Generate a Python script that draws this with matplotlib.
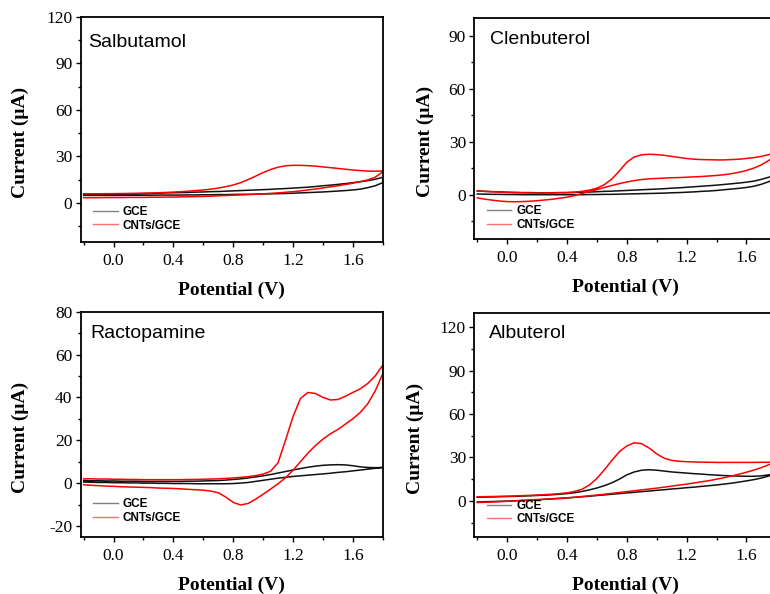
import matplotlib
matplotlib.use('Agg')
import matplotlib.pyplot as plt
from matplotlib.lines import Line2D
from matplotlib.ticker import MultipleLocator, FormatStrFormatter

plt.rcParams['axes.unicode_minus'] = False

# potential grid (V), shared by all scans
E = [-0.2, -0.15, -0.1, -0.05, 0.0, 0.05, 0.1, 0.15,
     0.2, 0.25, 0.3, 0.35, 0.4, 0.45, 0.5, 0.55,
     0.6, 0.65, 0.7, 0.75, 0.8, 0.85, 0.9, 0.95,
     1.0, 1.05, 1.1, 1.15, 1.2, 1.25, 1.3, 1.35,
     1.4, 1.45, 1.5, 1.55, 1.6, 1.65, 1.7, 1.75,
     1.8]

# currents (uA): upper branch / lower branch of each CV loop
sal_gce_up = [5.6, 5.6, 5.6, 5.7, 5.7, 5.8, 5.9, 5.9,
              6.0, 6.1, 6.2, 6.4, 6.5, 6.6, 6.7, 6.9,
              7.0, 7.2, 7.3, 7.5, 7.7, 7.9, 8.1, 8.3,
              8.5, 8.7, 9.0, 9.2, 9.5, 9.8, 10.1, 10.5,
              11.0, 11.4, 11.9, 12.4, 13.0, 13.6, 14.3, 15.2,
              16.5]
sal_gce_lo = [4.8, 4.8, 4.8, 4.8, 4.8, 4.8, 4.9, 4.9,
              4.9, 4.9, 5.0, 5.0, 5.0, 5.0, 5.1, 5.1,
              5.2, 5.2, 5.3, 5.3, 5.4, 5.5, 5.5, 5.6,
              5.7, 5.8, 5.9, 6.0, 6.2, 6.4, 6.6, 6.8,
              7.0, 7.3, 7.6, 7.9, 8.3, 8.8, 9.8, 11.0,
              13.0]
sal_cnt_up = [5.8, 5.8, 5.8, 5.9, 5.9, 6.0, 6.0, 6.1,
              6.2, 6.3, 6.5, 6.7, 6.9, 7.2, 7.5, 7.9,
              8.3, 8.8, 9.5, 10.4, 11.5, 13.0, 15.0, 17.2,
              19.5, 21.5, 23.0, 23.9, 24.2, 24.2, 24.0, 23.7,
              23.2, 22.7, 22.2, 21.7, 21.2, 20.8, 20.5, 20.4,
              20.6]
sal_cnt_lo = [3.3, 3.3, 3.3, 3.4, 3.4, 3.4, 3.5, 3.5,
              3.5, 3.6, 3.6, 3.7, 3.7, 3.8, 3.9, 4.0,
              4.1, 4.3, 4.5, 4.7, 4.9, 5.1, 5.3, 5.5,
              5.8, 6.1, 6.4, 6.8, 7.2, 7.7, 8.3, 8.9,
              9.6, 10.3, 11.0, 11.8, 12.7, 13.7, 14.8, 16.5,
              20.0]

cle_gce_up = [2.2, 2.0, 1.8, 1.7, 1.5, 1.4, 1.3, 1.3,
              1.2, 1.2, 1.2, 1.3, 1.3, 1.4, 1.5, 1.6,
              1.8, 2.0, 2.1, 2.3, 2.5, 2.7, 2.9, 3.1,
              3.3, 3.5, 3.8, 4.0, 4.3, 4.6, 4.9, 5.2,
              5.5, 5.9, 6.3, 6.7, 7.2, 7.8, 8.8, 10.0,
              11.5]
cle_gce_lo = [0.5, 0.4, 0.3, 0.3, 0.2, 0.2, 0.1, 0.1,
              0.1, 0.1, 0.1, 0.1, 0.1, 0.1, 0.1, 0.2,
              0.2, 0.3, 0.3, 0.4, 0.5, 0.6, 0.7, 0.8,
              0.9, 1.0, 1.2, 1.3, 1.5, 1.7, 2.0, 2.2,
              2.5, 2.9, 3.3, 3.7, 4.2, 4.9, 6.0, 7.5,
              9.5]
cle_cnt_up = [2.2, 2.0, 1.8, 1.6, 1.4, 1.3, 1.2, 1.1,
              1.1, 1.1, 1.1, 1.2, 1.3, 1.5, 2.0, 2.7,
              3.8, 5.8, 9.0, 13.5, 18.5, 21.5, 22.7, 23.0,
              22.8, 22.4, 21.8, 21.2, 20.6, 20.2, 20.0, 19.9,
              19.8, 19.8, 20.0, 20.2, 20.6, 21.1, 21.8, 22.8,
              24.0]
cle_cnt_lo = [-1.7, -2.4, -3.0, -3.5, -3.8, -3.9, -3.8, -3.6,
              -3.3, -2.9, -2.5, -1.9, -1.3, -0.4, 0.8, 1.9,
              3.0, 4.2, 5.3, 6.4, 7.3, 8.1, 8.7, 9.1,
              9.3, 9.5, 9.7, 9.8, 10.0, 10.2, 10.4, 10.7,
              11.0, 11.4, 12.0, 12.8, 13.8, 15.2, 17.0, 19.5,
              22.5]

rac_gce_up = [1.2, 1.1, 1.1, 1.0, 1.0, 0.9, 0.9, 0.9,
              0.8, 0.8, 0.8, 0.8, 0.8, 0.8, 0.9, 0.9,
              1.0, 1.1, 1.2, 1.4, 1.7, 2.0, 2.4, 2.9,
              3.4, 4.0, 4.7, 5.4, 6.1, 6.8, 7.4, 7.9,
              8.3, 8.5, 8.6, 8.5, 8.1, 7.6, 7.3, 7.2,
              7.3]
rac_gce_lo = [0.5, 0.4, 0.3, 0.3, 0.2, 0.2, 0.1, 0.1,
              0.0, 0.0, -0.1, -0.1, -0.2, -0.2, -0.2, -0.3,
              -0.3, -0.3, -0.3, -0.3, -0.2, 0.0, 0.3, 0.8,
              1.3, 1.8, 2.3, 2.7, 3.1, 3.4, 3.7, 4.0,
              4.3, 4.6, 5.0, 5.3, 5.7, 6.1, 6.5, 6.9,
              7.3]
rac_cnt_up = [2.0, 2.0, 1.9, 1.9, 1.8, 1.8, 1.7, 1.7,
              1.6, 1.6, 1.6, 1.6, 1.6, 1.6, 1.7, 1.7,
              1.8, 1.9, 2.0, 2.2, 2.4, 2.7, 3.0, 3.5,
              4.2, 5.5, 9.5, 20.0, 31.0, 39.5, 42.3, 41.8,
              40.0, 38.8, 39.0, 40.5, 42.3, 44.0, 46.5, 50.0,
              55.0]
rac_cnt_lo = [-0.8, -1.0, -1.2, -1.4, -1.5, -1.7, -1.8, -1.9,
              -2.0, -2.1, -2.3, -2.4, -2.5, -2.7, -2.9, -3.1,
              -3.3, -3.7, -4.5, -6.5, -9.0, -10.2, -9.5, -7.5,
              -5.2, -2.8, -0.3, 2.5, 6.0, 10.0, 14.0, 17.5,
              20.5, 23.0, 25.0, 27.5, 30.0, 33.0, 37.0, 43.0,
              51.0]

alb_gce_up = [2.5, 2.6, 2.7, 2.9, 3.0, 3.1, 3.3, 3.5,
              3.7, 3.9, 4.2, 4.6, 5.0, 5.6, 6.5, 7.6,
              8.9, 10.5, 12.5, 15.0, 18.0, 20.0, 21.2, 21.5,
              21.2, 20.6, 20.0, 19.6, 19.2, 18.8, 18.5, 18.1,
              17.8, 17.5, 17.3, 17.1, 17.0, 17.0, 17.3, 18.0,
              19.0]
alb_gce_lo = [-0.8, -0.6, -0.5, -0.3, -0.2, 0.0, 0.2, 0.4,
              0.7, 1.0, 1.3, 1.6, 2.0, 2.4, 2.8, 3.2,
              3.7, 4.1, 4.6, 5.0, 5.5, 5.9, 6.4, 6.8,
              7.3, 7.7, 8.2, 8.6, 9.1, 9.5, 10.0, 10.5,
              11.0, 11.6, 12.2, 13.0, 13.8, 14.7, 15.8, 17.2,
              18.8]
alb_cnt_up = [2.8, 2.9, 3.0, 3.1, 3.2, 3.4, 3.6, 3.8,
              4.0, 4.3, 4.6, 5.0, 5.5, 6.5, 8.0, 11.0,
              15.5, 21.5, 28.0, 34.0, 38.0, 40.2, 39.5, 36.5,
              32.5, 29.5, 28.0, 27.4, 27.1, 26.9, 26.8, 26.7,
              26.6, 26.6, 26.6, 26.6, 26.6, 26.6, 26.7, 26.7,
              26.8]
alb_cnt_lo = [-1.2, -1.0, -0.8, -0.6, -0.3, 0.0, 0.3, 0.6,
              0.9, 1.2, 1.5, 1.8, 2.1, 2.5, 3.0, 3.5,
              4.0, 4.6, 5.2, 5.8, 6.4, 7.0, 7.6, 8.2,
              8.8, 9.5, 10.2, 10.9, 11.6, 12.4, 13.2, 14.0,
              15.0, 16.0, 17.2, 18.4, 19.8, 21.3, 23.0, 25.0,
              27.0]

names = ['Salbutamol', 'Clenbuterol', 'Ractopamine', 'Albuterol']
ylims = [(-25, 120), (-25, 100), (-25, 80), (-25, 130)]
ysteps = [30, 30, 20, 30]
gce = [(sal_gce_up, sal_gce_lo), (cle_gce_up, cle_gce_lo),
       (rac_gce_up, rac_gce_lo), (alb_gce_up, alb_gce_lo)]
cnt = [(sal_cnt_up, sal_cnt_lo), (cle_cnt_up, cle_cnt_lo),
       (rac_cnt_up, rac_cnt_lo), (alb_cnt_up, alb_cnt_lo)]

# layout (figure fractions) and text placement (axes fractions)
boxes = [[0.1048, 0.5934, 0.3922, 0.3780],
         [0.6160, 0.5976, 0.3922, 0.3716],
         [0.1048, 0.0965, 0.3922, 0.3788],
         [0.6160, 0.0960, 0.3922, 0.3771]]
name_pos = [(0.024, 0.886), (0.052, 0.902), (0.031, 0.905), (0.049, 0.909)]
leg_y = [0.102, 0.096, 0.115, 0.109]
ylab_x = [-0.172, -0.135, -0.172, -0.167]

fig = plt.figure(figsize=(7.7, 5.94), dpi=100)

for i in range(4):
    ax = fig.add_axes(boxes[i])
    up, lo = gce[i]
    ax.plot(E + E[::-1], up + lo[::-1], color='#111111', lw=1.1)
    up, lo = cnt[i]
    ax.plot(E + E[::-1], up + lo[::-1], color='#ff0000', lw=1.1)

    ax.set_xlim(-0.22, 1.8)
    ax.set_ylim(*ylims[i])
    ax.xaxis.set_major_locator(MultipleLocator(0.4))
    ax.xaxis.set_minor_locator(MultipleLocator(0.2))
    ax.xaxis.set_major_formatter(FormatStrFormatter('%.1f'))
    ax.yaxis.set_major_locator(MultipleLocator(ysteps[i]))
    ax.yaxis.set_minor_locator(MultipleLocator(ysteps[i] / 2))
    ax.tick_params(which='both', direction='out', top=False, right=False,
                   width=1.0, labelsize=12.5)
    ax.tick_params(which='major', length=3.5)
    ax.tick_params(which='minor', length=2.5)
    ax.tick_params(axis='x', pad=4.5)
    ax.tick_params(axis='y', pad=2.5)
    for lab in ax.get_xticklabels() + ax.get_yticklabels():
        lab.set_family('Liberation Serif')
    for sp in ax.spines.values():
        sp.set_linewidth(1.3)

    ax.set_xlabel('Potential (V)', family='Liberation Serif',
                  fontweight='bold', fontsize=14)
    ax.set_ylabel('Current (\u03bcA)', family='Liberation Serif',
                  fontweight='bold', fontsize=14)
    ax.xaxis.set_label_coords(0.5, -0.178)
    ax.yaxis.set_label_coords(ylab_x[i], 0.44)

    ax.text(name_pos[i][0], name_pos[i][1], names[i], transform=ax.transAxes,
            ha='left', va='center', family='Liberation Sans', fontsize=14)

    handles = [Line2D([], [], color='#808080', lw=1.0),
               Line2D([], [], color='#ff6f6f', lw=1.0)]
    ax.legend(handles, ['GCE', 'CNTs/GCE'], loc='center left',
              bbox_to_anchor=(0.041, leg_y[i]), frameon=False,
              prop={'family': 'Liberation Sans', 'weight': 'bold', 'size': 8.5},
              handlelength=2.1, handletextpad=0.4, labelspacing=0.15,
              borderpad=0, borderaxespad=0)

fig.savefig('out.png', dpi=100)
